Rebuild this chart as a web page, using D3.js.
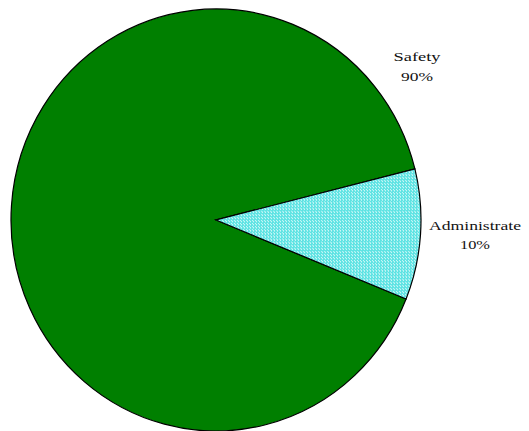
<!DOCTYPE html>
<html><head><meta charset="utf-8">
<script src="https://d3js.org/d3.v7.min.js"></script>
<style>html,body{margin:0;padding:0;background:#fff;overflow:hidden}</style>
</head><body>
<svg id="c" width="529" height="431"></svg>
<script>
const categories = ["Safety", "Administrate"];
const values = [90, 10];
const labels = ["90%", "10%"];

const svg = d3.select("#c");
const defs = svg.append("defs");
const pat = defs.append("pattern").attr("id","dots").attr("patternUnits","userSpaceOnUse")
  .attr("width",3).attr("height",3);
pat.append("rect").attr("width",3).attr("height",3).attr("fill","#5fe3e3");
pat.append("rect").attr("x",1).attr("y",1).attr("width",1).attr("height",1).attr("fill","#ffffff");
pat.append("rect").attr("x",0).attr("y",0).attr("width",1).attr("height",1).attr("fill","#c8f8f8");

const cx = 216, cy = 220, rx = 205, ry = 211;
const pie = d3.pie().sort(null).value(d => d)
  .startAngle(112 * Math.PI/180).endAngle((112 + 360) * Math.PI/180);
const arcs = pie(values);
const arc = d3.arc().innerRadius(0).outerRadius(rx);
const fills = ["#007f00", "url(#dots)"];

const g = svg.append("g").attr("transform", `translate(${cx},${cy}) scale(1,${ry/rx})`);
g.selectAll("path").data(arcs).enter().append("path")
  .attr("d", arc).attr("fill", (d,i) => fills[i])
  .attr("stroke", "#000").attr("stroke-width", 1.2).attr("vector-effect","non-scaling-stroke");

const labelPos = [[417, 61, 81, 47, 32], [475, 230, 249, 92, 30]];
arcs.forEach((d, i) => {
  const p = labelPos[i];
  svg.append("text").attr("x", p[0]).attr("y", p[1]).attr("text-anchor","middle")
    .attr("font-family","Liberation Serif, Times New Roman, serif").attr("font-size",13)
    .attr("textLength", p[3]).attr("lengthAdjust","spacingAndGlyphs")
    .attr("fill","#111").text(categories[i]);
  svg.append("text").attr("x", p[0]).attr("y", p[2]).attr("text-anchor","middle")
    .attr("font-family","Liberation Serif, Times New Roman, serif").attr("font-size",13)
    .attr("textLength", p[4]).attr("lengthAdjust","spacingAndGlyphs")
    .attr("fill","#111").text(labels[i]);
});
</script>
</body></html>
